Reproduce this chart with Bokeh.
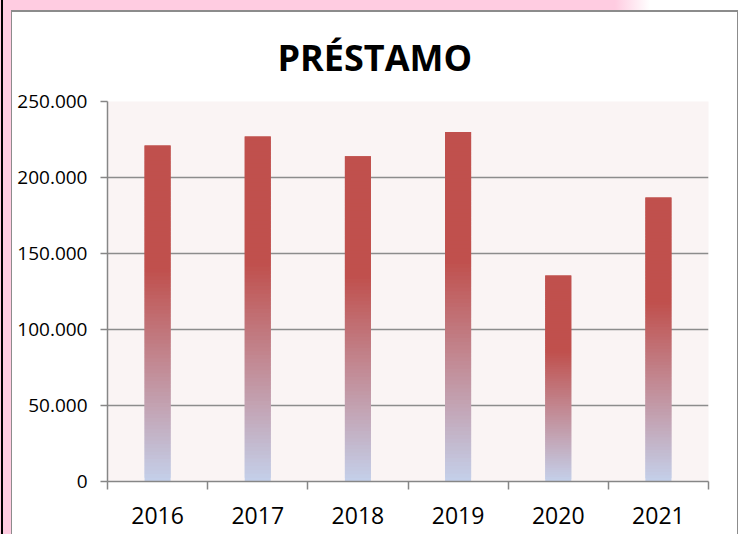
from bokeh.plotting import figure
from bokeh.models import FixedTicker, Range1d, ColumnDataSource
from bokeh.embed import file_html
from bokeh.resources import INLINE

# ---- data ----
years = ["2016", "2017", "2018", "2019", "2020", "2021"]
prestamo = [221000, 227000, 214000, 230000, 135500, 186800]
y_ticks = [0, 50000, 100000, 150000, 200000, 250000]
y_tick_labels = ["0", "50.000", "100.000", "150.000", "200.000", "250.000"]
title_text = "PRÉSTAMO"

# ---- styles ----
RED = (192, 80, 77)
BLUE = (196, 208, 234)
GRAD_END = 0.63   # fraction of bar height where gradient reaches full red
N_SLICES = 90
FONT = "Open Sans"
PINK = "#FFCCE1"

def mix(t):
    t = max(0.0, min(1.0, t))
    c = [round(b + (r - b) * t) for r, b in zip(RED, BLUE)]
    return "#%02x%02x%02x" % tuple(c)

xs = list(range(1, len(years) + 1))

# build gradient slices from the data values (each slice overlaps the next)
sx, sb, st, sc = [], [], [], []
for x, v in zip(xs, prestamo):
    for k in range(N_SLICES):
        f0 = k / N_SLICES
        f1 = min(1.0, (k + 2) / N_SLICES)
        sx.append(x)
        sb.append(v * f0)
        st.append(v * f1)
        sc.append(mix(((k + 0.5) / N_SLICES) / GRAD_END))

src = ColumnDataSource(dict(x=sx, bottom=sb, top=st, color=sc))

p = figure(width=743, height=534, output_backend="svg", toolbar_location=None,
           x_range=Range1d(0.5, len(years) + 0.5), y_range=Range1d(0, y_ticks[-1]),
           min_border_left=107, min_border_right=35, min_border_top=101, min_border_bottom=53)

p.background_fill_color = "#FAF4F4"
p.border_fill_color = None
p.outline_line_color = None

# page decoration behind the transparent canvas border area
p.styles = {
    "background-color": "white",
    "background-image": ", ".join([
        "linear-gradient(black, black)",
        "linear-gradient(white, white)",
        "linear-gradient(#8C8C8C, #8C8C8C)",
        f"linear-gradient(to right, {PINK} 0px, {PINK} 615px, white 650px)",
        f"linear-gradient({PINK}, {PINK})",
    ]),
    "background-position": "1px 0px, 12px 12px, 11px 10px, 0px 0px, 0px 0px",
    "background-size": "2px 534px, 725px 600px, 727px 600px, 743px 11px, 11px 534px",
    "background-repeat": "no-repeat",
}

p.vbar(x="x", bottom="bottom", top="top", width=0.26, fill_color="color",
       line_color=None, source=src)

# title
p.title.text = title_text
p.title.align = "left"
p.title.offset = 170
p.title.vertical_align = "bottom"
p.title.standoff = 40
p.title.text_font = FONT
p.title.text_font_size = "36px"
p.title.text_font_style = "bold"
p.title.text_color = "black"

# y axis
p.yaxis.ticker = FixedTicker(ticks=y_ticks)
p.yaxis.major_label_overrides = {t: l for t, l in zip(y_ticks, y_tick_labels)}
p.yaxis.axis_line_color = "#868686"
p.yaxis.axis_line_width = 1.5
p.yaxis.major_tick_line_color = "#868686"
p.yaxis.major_tick_line_width = 1.5
p.yaxis.major_tick_out = 7
p.yaxis.major_tick_in = 0
p.yaxis.minor_tick_line_color = None
p.yaxis.major_label_standoff = 13
p.yaxis.major_label_text_font = FONT
p.yaxis.major_label_text_font_size = "19px"
p.yaxis.major_label_text_color = "black"

# x axis: labels at centers, ticks at boundaries
p.xaxis.ticker = FixedTicker(ticks=xs, minor_ticks=[x - 0.5 for x in xs] + [xs[-1] + 0.5])
p.xaxis.major_label_overrides = {x: y for x, y in zip(xs, years)}
p.xaxis.axis_line_color = "#868686"
p.xaxis.axis_line_width = 1.5
p.xaxis.major_tick_line_color = None
p.xaxis.major_tick_out = 0
p.xaxis.major_tick_in = 0
p.xaxis.minor_tick_line_color = "#868686"
p.xaxis.minor_tick_line_width = 1.5
p.xaxis.minor_tick_out = 8
p.xaxis.minor_tick_in = 0
p.xaxis.major_label_standoff = 17
p.xaxis.major_label_text_font = FONT
p.xaxis.major_label_text_font_size = "23px"
p.xaxis.major_label_text_color = "black"

p.xgrid.grid_line_color = None
p.ygrid.ticker = FixedTicker(ticks=y_ticks)
p.ygrid.grid_line_color = "#8C8C8C"
p.ygrid.grid_line_width = 1.5

open("out.html", "w").write(file_html(p, INLINE))
